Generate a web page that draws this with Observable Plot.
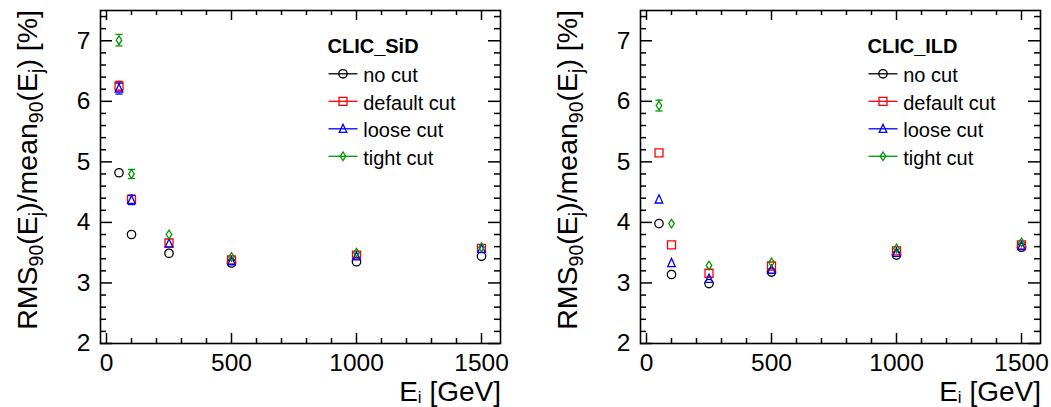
<!DOCTYPE html>
<html><head><meta charset="utf-8">
<script src="https://cdn.jsdelivr.net/npm/d3@7"></script>
<script src="https://cdn.jsdelivr.net/npm/@observablehq/plot@0.6"></script>
<style>
html,body{margin:0;padding:0;background:#fff;}
#wrap{display:flex;width:1051px;height:407px;overflow:hidden;}
svg{font-family:"Liberation Sans",Arial,Helvetica,sans-serif;}
</style></head><body><div id="wrap"></div>
<script>
// ---- data ----
const energies = [50, 100, 250, 500, 1000, 1500];
const seriesNames = ["no cut", "default cut", "loose cut", "tight cut"];
const seriesColors = ["#000000", "#ff0000", "#0000ff", "#009900"];
const panelTitles = ["CLIC_SiD", "CLIC_ILD"];

const sidNoCut   = [4.82, 3.80, 3.49, 3.33, 3.35, 3.44];
const sidDefault = [6.25, 4.38, 3.66, 3.38, 3.46, 3.57];
const sidLoose   = [6.21, 4.37, 3.65, 3.36, 3.44, 3.56];
const sidTight   = [7.01, 4.80, 3.80, 3.43, 3.50, 3.59];
const sidNoCutErr   = [0.04, 0.03, 0.02, 0.02, 0.02, 0.02];
const sidDefaultErr = [0.08, 0.07, 0.03, 0.02, 0.02, 0.02];
const sidLooseErr   = [0.09, 0.075, 0.03, 0.02, 0.02, 0.02];
const sidTightErr   = [0.095, 0.075, 0.03, 0.02, 0.02, 0.02];

const ildNoCut   = [3.98, 3.14, 2.99, 3.18, 3.46, 3.59];
const ildDefault = [5.15, 3.63, 3.16, 3.28, 3.53, 3.63];
const ildLoose   = [4.38, 3.33, 3.07, 3.22, 3.50, 3.61];
const ildTight   = [5.93, 3.98, 3.29, 3.34, 3.57, 3.67];
const ildNoCutErr   = [0.03, 0.02, 0.02, 0.02, 0.02, 0.02];
const ildDefaultErr = [0.06, 0.03, 0.02, 0.02, 0.02, 0.02];
const ildLooseErr   = [0.05, 0.03, 0.02, 0.02, 0.02, 0.02];
const ildTightErr   = [0.09, 0.04, 0.02, 0.02, 0.02, 0.02];

const xDomain = [-24, 1576];
const yDomain = [2, 7.5];
const xMajorTicks = [0, 500, 1000, 1500];
const xMinorTicks = [100, 200, 300, 400, 600, 700, 800, 900, 1100, 1200, 1300, 1400];
const yMajorTicks = [2, 3, 4, 5, 6, 7];
const yMinorTicks = [2.2, 2.4, 2.6, 2.8, 3.2, 3.4, 3.6, 3.8, 4.2, 4.4, 4.6, 4.8,
                     5.2, 5.4, 5.6, 5.8, 6.2, 6.4, 6.6, 6.8, 7.2, 7.4];

// ---- marker symbols ----
const symCircle = {draw(c){ c.moveTo(4.2,0); c.arc(0,0,4.2,0,2*Math.PI); }};
const symSquare = {draw(c){ c.moveTo(-4,-4); c.lineTo(4,-4); c.lineTo(4,4); c.lineTo(-4,4); c.closePath(); }};
const symTriangle = {draw(c){ c.moveTo(0,-4.6); c.lineTo(3.8,3.6); c.lineTo(-3.8,3.6); c.closePath(); }};
const symDiamond = {draw(c){ c.moveTo(0,-4.3); c.lineTo(2.8,0); c.lineTo(0,4.3); c.lineTo(-2.8,0); c.closePath(); }};
const symCap = {draw(c){ c.moveTo(-3.6,0); c.lineTo(3.6,0); }};
const symLegLine = {draw(c){ c.moveTo(-14.5,0); c.lineTo(14.5,0); }};
const symbols = [symCircle, symSquare, symTriangle, symDiamond];
const markerHalf = [4.2, 4, 4.3, 4.3];

function panel(title, values, errs, o) {
  const plotW = o.width - o.marginLeft - o.marginRight;
  const plotH = o.height - o.marginTop - o.marginBottom;
  const pxPerUnit = plotH / (yDomain[1] - yDomain[0]);
  const marks = [];
  const tk = {stroke: "#000", strokeWidth: 1.5};
  marks.push(Plot.tickY(yMajorTicks, {y: d => d, insetRight: plotW - 12, ...tk}));
  marks.push(Plot.tickY(yMinorTicks, {y: d => d, insetRight: plotW - 6, ...tk}));
  marks.push(Plot.tickY(yMajorTicks, {y: d => d, insetLeft: plotW - 12, ...tk}));
  marks.push(Plot.tickY(yMinorTicks, {y: d => d, insetLeft: plotW - 6, ...tk}));
  marks.push(Plot.tickX(xMajorTicks, {x: d => d, insetTop: plotH - 10, ...tk}));
  marks.push(Plot.tickX(xMinorTicks, {x: d => d, insetTop: plotH - 5, ...tk}));
  marks.push(Plot.tickX(xMajorTicks, {x: d => d, insetBottom: plotH - 10, ...tk}));
  marks.push(Plot.tickX(xMinorTicks, {x: d => d, insetBottom: plotH - 5, ...tk}));
  marks.push(Plot.axisY({ticks: yMajorTicks, tickSize: 0, tickPadding: 10, fontSize: 24.5, tickFormat: d => String(d), label: null}));
  marks.push(Plot.axisX({ticks: xMajorTicks, tickSize: 0, tickPadding: 10, fontSize: 24.5, tickFormat: d => String(d), label: null}));
  marks.push(Plot.frame({stroke: "#000", strokeWidth: 1.6}));

  seriesNames.forEach((name, s) => {
    const color = seriesColors[s];
    const ds = energies.map((E, i) => ({E, v: values[s][i], err: errs[s][i]}));
    const gap = markerHalf[s] / pxPerUnit;
    const eb = ds.filter(d => d.err > gap);
    const st = {stroke: color, strokeWidth: 1.3};
    marks.push(Plot.ruleX(eb, {x: "E", y1: d => d.v + gap, y2: d => d.v + d.err, ...st}));
    marks.push(Plot.ruleX(eb, {x: "E", y1: d => d.v - gap, y2: d => d.v - d.err, ...st}));
    marks.push(Plot.dot(eb, {x: "E", y: d => d.v + d.err, symbol: symCap, r: 3, fill: "none", ...st}));
    marks.push(Plot.dot(eb, {x: "E", y: d => d.v - d.err, symbol: symCap, r: 3, fill: "none", ...st}));
    marks.push(Plot.dot(ds, {x: "E", y: "v", symbol: symbols[s], r: 4, fill: "none", ...st}));
    // legend entry
    const rowY = 63.3 + s * 27.5;
    marks.push(Plot.dot([name], {frameAnchor: "top-right", dx: -157.5, dy: rowY, symbol: symLegLine, r: 3, fill: "none", ...st}));
    marks.push(Plot.dot([name], {frameAnchor: "top-right", dx: -157.5, dy: rowY, symbol: symbols[s], r: 4, fill: "none", ...st}));
    marks.push(Plot.text([name], {frameAnchor: "top-right", dx: -137.3, dy: rowY + 2, text: d => d, textAnchor: "start", lineAnchor: "middle", fontSize: 20, fill: "#000"}));
  });
  marks.push(Plot.text([title], {frameAnchor: "top-right", dx: -173, dy: 36.3, text: d => d, textAnchor: "start", lineAnchor: "middle", fontSize: 20, fontWeight: "bold", fill: "#000"}));

  const chart = Plot.plot({
    width: o.width, height: o.height,
    marginLeft: o.marginLeft, marginRight: o.marginRight,
    marginTop: o.marginTop, marginBottom: o.marginBottom,
    x: {domain: xDomain, axis: null},
    y: {domain: yDomain, axis: null},
    style: {fontFamily: '"Liberation Sans", Arial, Helvetica, sans-serif', color: "#000", background: "#fff", overflow: "visible"},
    marks
  });

  const svg = d3.select(chart);
  svg.selectAll('g[aria-label="x-axis tick label"] text, g[aria-label="y-axis tick label"] text')
    .style("font-size", "24.5px");
  // x axis title
  const xt = svg.append("text")
    .attr("x", o.marginLeft + plotW + 1).attr("y", 400.5)
    .attr("text-anchor", "end").style("font-size", "28px").attr("fill", "#000")
    .style("white-space", "pre");
  xt.append("tspan").text("E");
  xt.append("tspan").style("font-size", "17px").attr("dy", 2.5).text("i");
  xt.append("tspan").attr("dy", -2.5).text(" [GeV]");
  // y axis title
  const yt = svg.append("text")
    .attr("transform", `translate(${o.marginLeft - 63},${o.marginTop}) rotate(-90)`)
    .attr("text-anchor", "end").style("font-size", "28.5px").attr("fill", "#000")
    .style("white-space", "pre");
  const parts = [["RMS",0],["90",1],["(E",0],["j",1],[")/mean",0],["90",1],["(E",0],["j",1],[") [%]",0]];
  let sub = false;
  parts.forEach(([t, isSub]) => {
    const ts = yt.append("tspan").text(t);
    if (isSub && !sub) { ts.attr("dy", 6).style("font-size", "19.5px"); sub = true; }
    else if (isSub) { ts.style("font-size", "19.5px"); }
    else if (!isSub && sub) { ts.attr("dy", -6); sub = false; }
  });
  return chart;
}

const wrap = document.getElementById("wrap");
wrap.appendChild(panel(panelTitles[0],
  [sidNoCut, sidDefault, sidLoose, sidTight],
  [sidNoCutErr, sidDefaultErr, sidLooseErr, sidTightErr],
  {width: 526, height: 407, marginLeft: 100, marginRight: 26, marginTop: 10, marginBottom: 64}));
wrap.appendChild(panel(panelTitles[1],
  [ildNoCut, ildDefault, ildLoose, ildTight],
  [ildNoCutErr, ildDefaultErr, ildLooseErr, ildTightErr],
  {width: 525, height: 407, marginLeft: 114, marginRight: 11, marginTop: 10, marginBottom: 64}));
</script></body></html>
